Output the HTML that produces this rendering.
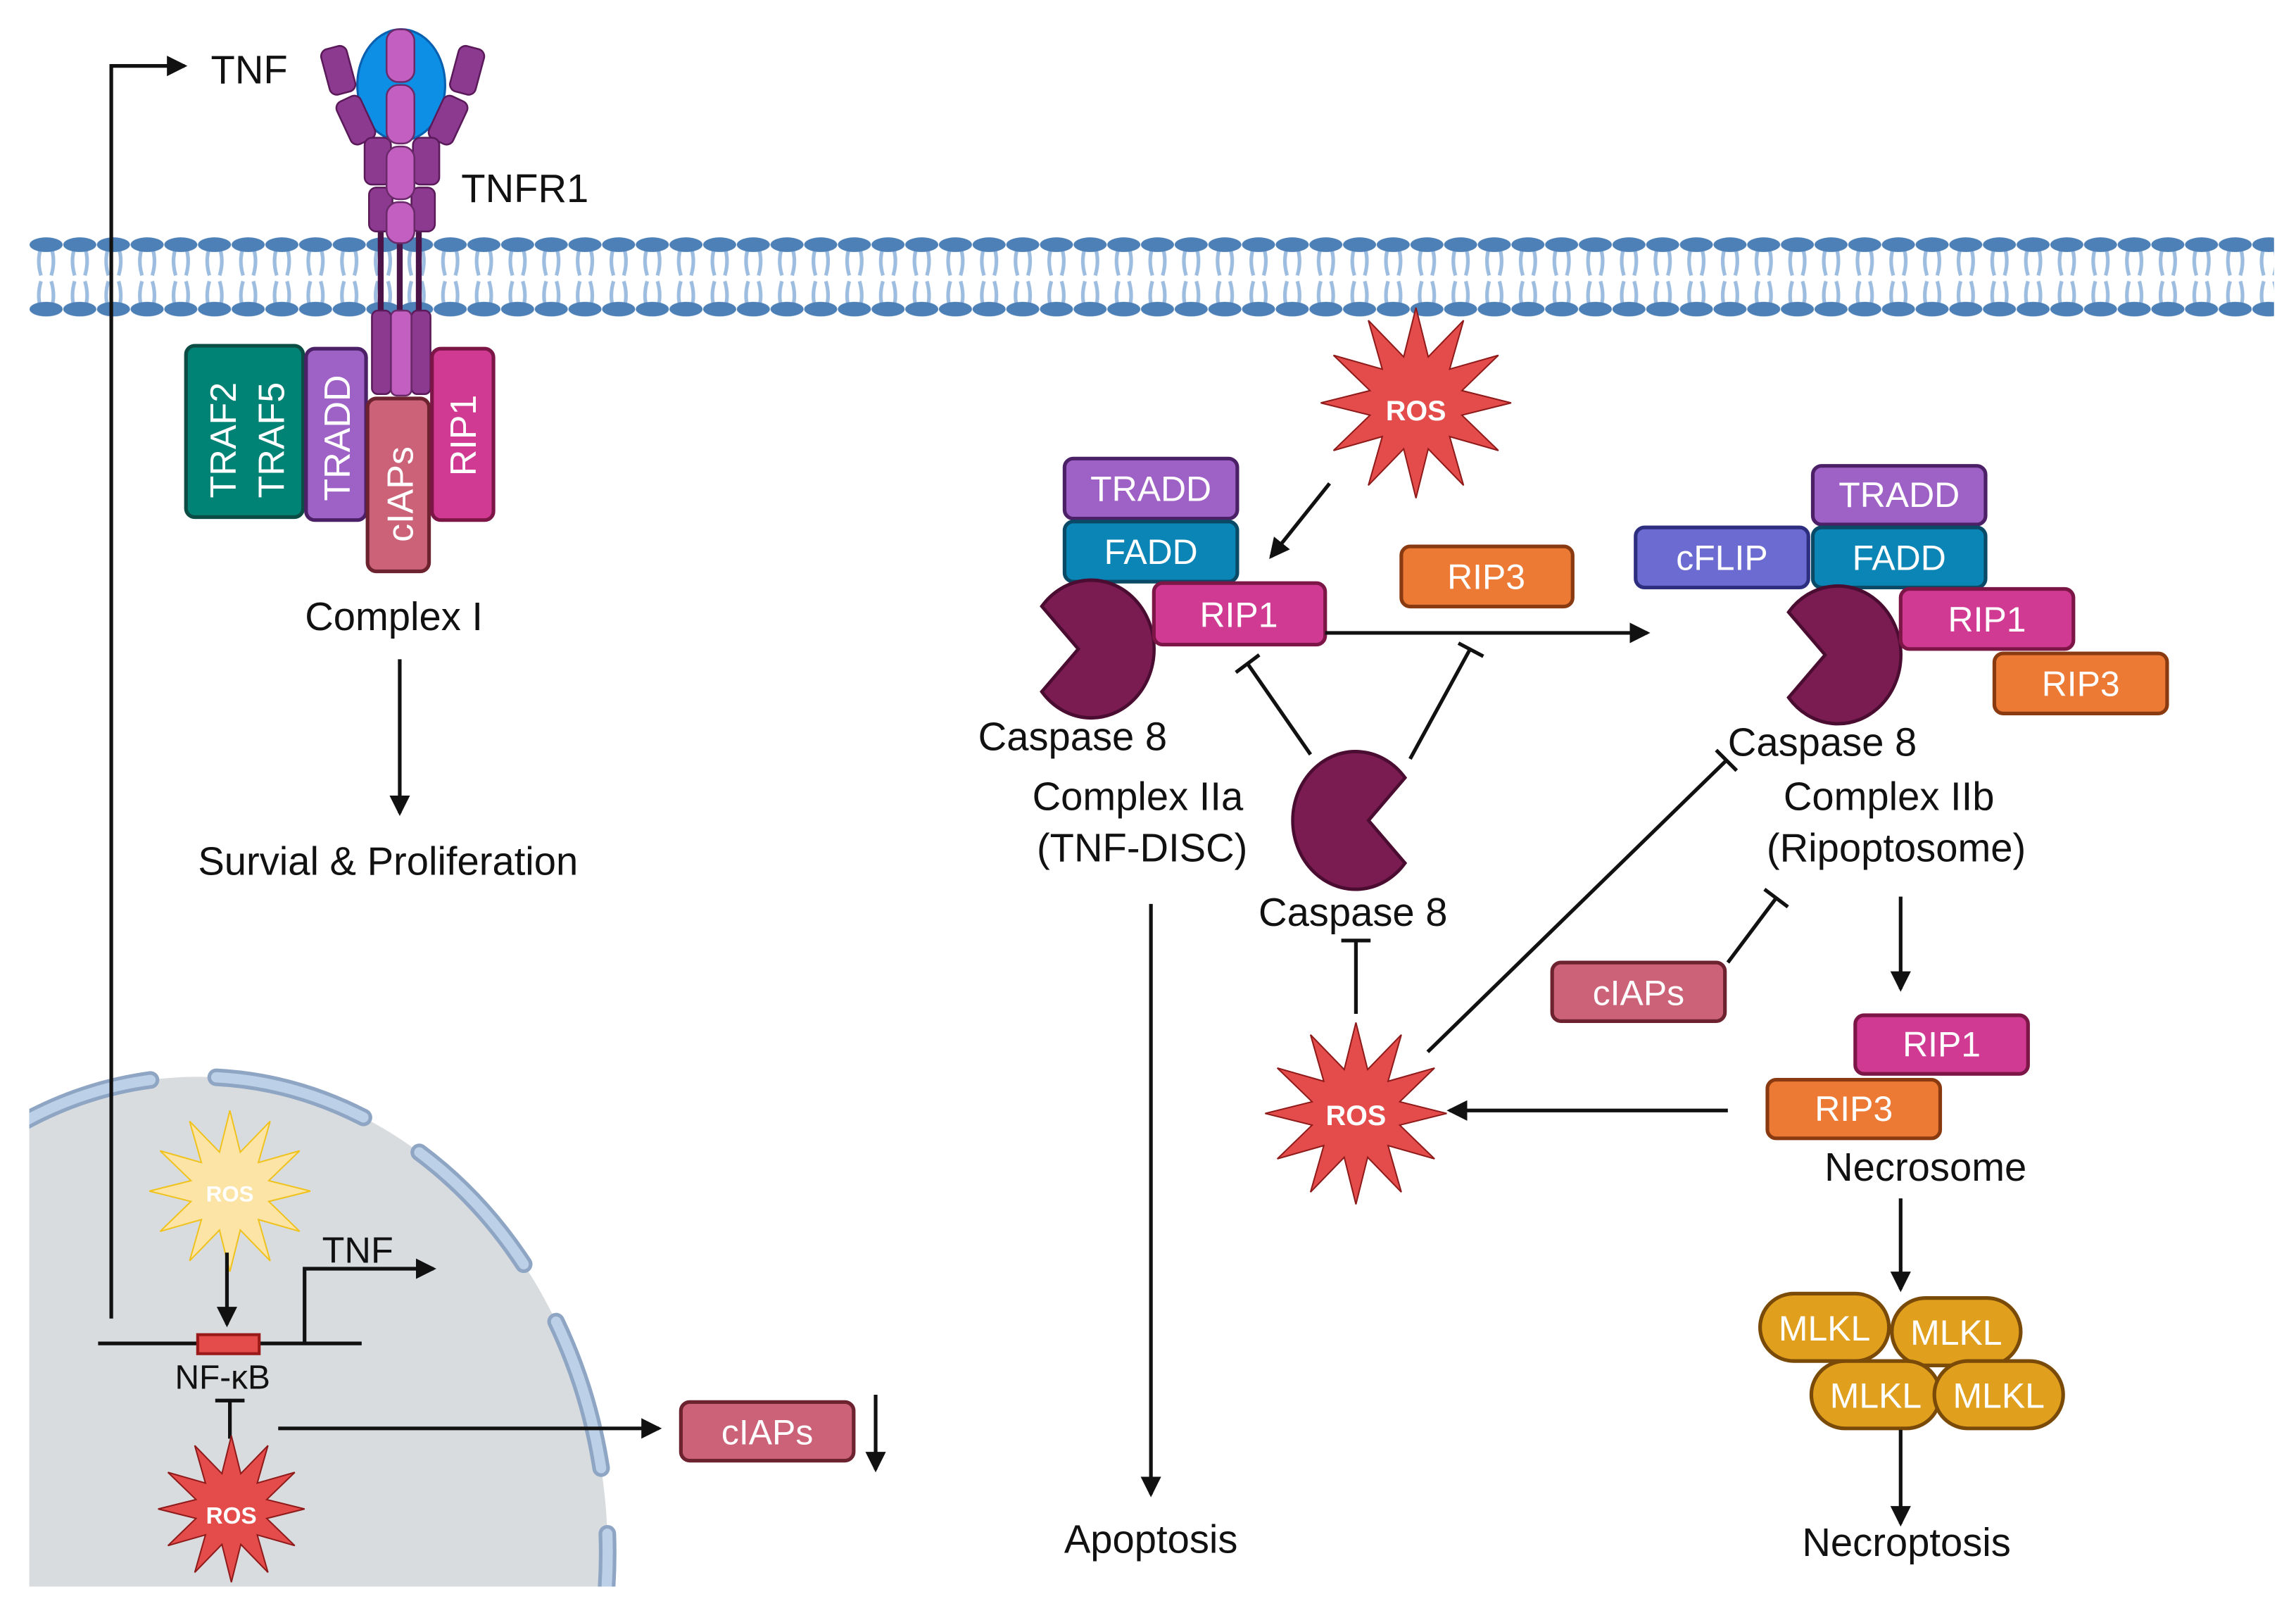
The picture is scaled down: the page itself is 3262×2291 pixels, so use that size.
<!DOCTYPE html>
<html><head><meta charset="utf-8"><style>
html,body{margin:0;padding:0;background:#fff;overflow:hidden;width:3262px;height:2291px;}
svg{display:block;}
text{font-family:"Liberation Sans",sans-serif;}
.lbl{font-size:27px;fill:#111;}
.bx{font-size:24px;fill:#fff;}
</style></head><body>
<svg width="3262" height="2291" viewBox="0 0 1568 1101" preserveAspectRatio="none" xmlns="http://www.w3.org/2000/svg">
<defs>
<marker id="ah" markerWidth="16" markerHeight="16" refX="12" refY="7" orient="auto" markerUnits="userSpaceOnUse"><path d="M0,0 L14,7 L0,14 Z" fill="#111"/></marker>
<symbol id="star" viewBox="-100 -100 200 200" overflow="visible">
<polygon vector-effect="non-scaling-stroke" points="0,-100 12.9,-48.3 50,-86.6 35.4,-35.4 86.6,-50 48.3,-12.9 100,0 48.3,12.9 86.6,50 35.4,35.4 50,86.6 12.9,48.3 0,100 -12.9,48.3 -50,86.6 -35.4,35.4 -86.6,50 -48.3,12.9 -100,0 -48.3,-12.9 -86.6,-50 -35.4,-35.4 -50,-86.6 -12.9,-48.3"/>
</symbol>
<pattern id="mem" x="20" y="160" width="23" height="60" patternUnits="userSpaceOnUse">
<path d="M8,9 Q5,18 8,28 M15,9 Q18,18 15,28 M8,32 Q5,42 8,51 M15,32 Q18,42 15,51" stroke="#9dbde0" stroke-width="2.5" fill="none"/>
<ellipse cx="11.5" cy="7" rx="11.3" ry="5" fill="#4d80b6"/>
<ellipse cx="11.5" cy="51" rx="11.3" ry="5" fill="#4d80b6"/>
</pattern>
<clipPath id="nc"><rect x="20" y="0" width="1548" height="1083"/></clipPath>
</defs>

<rect x="20" y="160" width="1533" height="60" fill="url(#mem)"/>

<g clip-path="url(#nc)">
<ellipse cx="135" cy="1060" rx="280" ry="325" fill="#d9dcdf"/>
<ellipse cx="135" cy="1060" rx="280" ry="325" fill="none" stroke="#8ea6c3" stroke-width="12" stroke-dasharray="105 45" stroke-dashoffset="60" stroke-linecap="round"/>
<ellipse cx="135" cy="1060" rx="280" ry="325" fill="none" stroke="#bcd0e8" stroke-width="7" stroke-dasharray="105 45" stroke-dashoffset="60" stroke-linecap="round"/>
</g>

<polyline points="76,900 76,45 126,45" fill="none" stroke="#111" stroke-width="2.5" marker-end="url(#ah)"/>
<text x="144" y="57" class="lbl">TNF</text>

<g>
<line x1="260" y1="150" x2="260" y2="215" stroke="#4a1448" stroke-width="4"/>
<line x1="273" y1="150" x2="273" y2="215" stroke="#4a1448" stroke-width="4"/>
<line x1="286" y1="150" x2="286" y2="215" stroke="#4a1448" stroke-width="4"/>
<ellipse cx="274" cy="58" rx="30" ry="38" fill="#0c8fe4" stroke="#0a60b0" stroke-width="1.5"/>
<g fill="#8c3a90" stroke="#5a1a5a" stroke-width="1.2">
<rect x="222" y="32" width="18" height="32" rx="5" transform="rotate(-15 231 48)"/>
<rect x="234" y="66" width="18" height="32" rx="5" transform="rotate(-25 243 82)"/>
<rect x="249" y="94" width="18" height="32" rx="5"/>
<rect x="252" y="128" width="16" height="30" rx="5"/>
<rect x="310" y="32" width="18" height="32" rx="5" transform="rotate(15 319 48)"/>
<rect x="297" y="66" width="18" height="32" rx="5" transform="rotate(25 306 82)"/>
<rect x="282" y="94" width="18" height="32" rx="5"/>
<rect x="281" y="128" width="16" height="30" rx="5"/>
<rect x="254" y="212" width="13" height="57" rx="4"/>
<rect x="281" y="212" width="13" height="57" rx="4"/>
</g>
<g fill="#c25fc0" stroke="#6a2a6a" stroke-width="1.2">
<rect x="264" y="20" width="19" height="36" rx="8"/>
<rect x="264" y="58" width="19" height="40" rx="8"/>
<rect x="264" y="100" width="19" height="36" rx="8"/>
<rect x="264" y="138" width="19" height="28" rx="8"/>
<rect x="267" y="212" width="14" height="58" rx="4"/>
</g>
</g>
<text x="315" y="138" class="lbl">TNFR1</text>

<rect x="127" y="236" width="80" height="117" rx="6" fill="#008274" stroke="#0b4d44" stroke-width="2.5"/>
<rect x="209" y="238" width="41" height="117" rx="6" fill="#9e62c6" stroke="#4b2066" stroke-width="2.5"/>
<rect x="251" y="272" width="42" height="118" rx="6" fill="#cc6277" stroke="#6d2230" stroke-width="2.5"/>
<rect x="295" y="238" width="42" height="117" rx="6" fill="#d03a92" stroke="#7b1646" stroke-width="2.5"/>
<text transform="translate(161,340) rotate(-90)" class="bx" style="font-size:25px">TRAF2</text>
<text transform="translate(194,340) rotate(-90)" class="bx" style="font-size:25px">TRAF5</text>
<text transform="translate(239,342) rotate(-90)" class="bx" style="font-size:25px">TRADD</text>
<text transform="translate(282,370) rotate(-90)" class="bx" style="font-size:25px">cIAPs</text>
<text transform="translate(325,325) rotate(-90)" class="bx" style="font-size:25px">RIP1</text>
<text x="269" y="430" class="lbl" text-anchor="middle">Complex I</text>
<line x1="273" y1="450" x2="273" y2="555" stroke="#111" stroke-width="2.5" marker-end="url(#ah)"/>
<text x="265" y="597" class="lbl" text-anchor="middle">Survial &amp; Proliferation</text>

<use href="#star" x="102" y="758" width="110" height="110" fill="#fbe4a6" stroke="#f0c21c" stroke-width="2"/>
<text x="157" y="820" text-anchor="middle" style="font-size:15px;font-weight:bold;fill:#fff">ROS</text>
<line x1="155" y1="855" x2="155" y2="904" stroke="#111" stroke-width="2.5" marker-end="url(#ah)"/>
<line x1="67" y1="917" x2="247" y2="917" stroke="#111" stroke-width="2.5"/>
<rect x="135" y="911" width="42" height="13" fill="#e44b4b" stroke="#9a1a1a" stroke-width="2"/>
<polyline points="208,917 208,866 296,866" fill="none" stroke="#111" stroke-width="2.5" marker-end="url(#ah)"/>
<text x="220" y="862" class="lbl" style="font-size:25px">TNF</text>
<text x="152" y="948" class="lbl" text-anchor="middle" style="font-size:23px">NF-κB</text>
<line x1="157" y1="956" x2="157" y2="982" stroke="#111" stroke-width="2.5"/>
<line x1="147" y1="956" x2="167" y2="956" stroke="#111" stroke-width="2.5"/>
<use href="#star" x="102" y="980" width="112" height="100" fill="#e44b4b" stroke="#8e1a1a" stroke-width="2"/>
<text x="158" y="1040" text-anchor="middle" style="font-size:16px;font-weight:bold;fill:#fff">ROS</text>
<line x1="190" y1="975" x2="450" y2="975" stroke="#111" stroke-width="2.5" marker-end="url(#ah)"/>
<rect x="465" y="957" width="118" height="40" rx="6" fill="#cc6277" stroke="#6d2230" stroke-width="2.5"/>
<text x="524" y="986" class="bx" text-anchor="middle">cIAPs</text>
<line x1="598" y1="952" x2="598" y2="1003" stroke="#111" stroke-width="2.5" marker-end="url(#ah)"/>

<use href="#star" x="897" y="210" width="140" height="130" fill="#e44b4b" stroke="#8e1a1a" stroke-width="2"/>
<text x="967" y="287" text-anchor="middle" style="font-size:19px;font-weight:bold;fill:#fff">ROS</text>
<line x1="908" y1="330" x2="868" y2="380" stroke="#111" stroke-width="2.5" marker-end="url(#ah)"/>

<rect x="727" y="313" width="118" height="41" rx="6" fill="#9e62c6" stroke="#4b2066" stroke-width="2.5"/>
<text x="786" y="342" class="bx" text-anchor="middle">TRADD</text>
<rect x="727" y="356" width="118" height="41" rx="6" fill="#0b85b5" stroke="#0a4a66" stroke-width="2.5"/>
<text x="786" y="385" class="bx" text-anchor="middle">FADD</text>
<path d="M-0.2,0 L-0.78,-0.62 A1,1 0 1,1 -0.78,0.62 Z" transform="translate(745,443) scale(43,47)" fill="#7a1c52" stroke="#4a0c30" stroke-width="0.05"/>
<rect x="788" y="398" width="117" height="42" rx="6" fill="#d03a92" stroke="#7b1646" stroke-width="2.5"/>
<text x="846" y="428" class="bx" text-anchor="middle">RIP1</text>
<text x="668" y="512" class="lbl">Caspase 8</text>
<text x="777" y="553" class="lbl" text-anchor="middle">Complex IIa</text>
<text x="780" y="588" class="lbl" text-anchor="middle">(TNF-DISC)</text>

<rect x="957" y="373" width="117" height="41" rx="6" fill="#ec7a35" stroke="#8a3a10" stroke-width="2.5"/>
<text x="1015" y="402" class="bx" text-anchor="middle">RIP3</text>
<line x1="905" y1="432" x2="1125" y2="432" stroke="#111" stroke-width="2.5" marker-end="url(#ah)"/>

<path d="M0.2,0 L0.78,-0.62 A1,1 0 1,0 0.78,0.62 Z" transform="translate(926,560) scale(43,47)" fill="#7a1c52" stroke="#4a0c30" stroke-width="0.05"/>
<g stroke="#111" stroke-width="2.5">
<line x1="895" y1="515" x2="852" y2="453"/><line x1="844" y1="459" x2="860" y2="447"/>
<line x1="963" y1="518" x2="1004" y2="443"/><line x1="996" y1="439" x2="1013" y2="448"/>
<line x1="926" y1="692" x2="926" y2="642"/><line x1="916" y1="642" x2="936" y2="642"/>
<line x1="975" y1="718" x2="1179" y2="519"/><line x1="1172" y1="512" x2="1186" y2="526"/>
<line x1="1180" y1="657" x2="1213" y2="613"/><line x1="1205" y1="607" x2="1221" y2="619"/>
</g>
<text x="924" y="632" class="lbl" text-anchor="middle">Caspase 8</text>
<use href="#star" x="858" y="698" width="136" height="124" fill="#e44b4b" stroke="#8e1a1a" stroke-width="2"/>
<text x="926" y="768" text-anchor="middle" style="font-size:19px;font-weight:bold;fill:#fff">ROS</text>
<rect x="1060" y="657" width="118" height="40" rx="6" fill="#cc6277" stroke="#6d2230" stroke-width="2.5"/>
<text x="1119" y="686" class="bx" text-anchor="middle">cIAPs</text>
<line x1="1180" y1="758" x2="990" y2="758" stroke="#111" stroke-width="2.5" marker-end="url(#ah)"/>
<line x1="786" y1="617" x2="786" y2="1020" stroke="#111" stroke-width="2.5" marker-end="url(#ah)"/>
<text x="786" y="1060" class="lbl" text-anchor="middle">Apoptosis</text>

<rect x="1238" y="318" width="118" height="40" rx="6" fill="#9e62c6" stroke="#4b2066" stroke-width="2.5"/>
<text x="1297" y="346" class="bx" text-anchor="middle">TRADD</text>
<rect x="1117" y="360" width="118" height="41" rx="6" fill="#6b6bd2" stroke="#2e2e80" stroke-width="2.5"/>
<text x="1176" y="389" class="bx" text-anchor="middle">cFLIP</text>
<rect x="1238" y="360" width="118" height="41" rx="6" fill="#0b85b5" stroke="#0a4a66" stroke-width="2.5"/>
<text x="1297" y="389" class="bx" text-anchor="middle">FADD</text>
<path d="M-0.2,0 L-0.78,-0.62 A1,1 0 1,1 -0.78,0.62 Z" transform="translate(1255,447) scale(43,47)" fill="#7a1c52" stroke="#4a0c30" stroke-width="0.05"/>
<rect x="1298" y="402" width="118" height="41" rx="6" fill="#d03a92" stroke="#7b1646" stroke-width="2.5"/>
<text x="1357" y="431" class="bx" text-anchor="middle">RIP1</text>
<rect x="1362" y="446" width="118" height="41" rx="6" fill="#ec7a35" stroke="#8a3a10" stroke-width="2.5"/>
<text x="1421" y="475" class="bx" text-anchor="middle">RIP3</text>
<text x="1180" y="516" class="lbl">Caspase 8</text>
<text x="1290" y="553" class="lbl" text-anchor="middle">Complex IIb</text>
<text x="1295" y="588" class="lbl" text-anchor="middle">(Ripoptosome)</text>
<line x1="1298" y1="612" x2="1298" y2="675" stroke="#111" stroke-width="2.5" marker-end="url(#ah)"/>

<rect x="1267" y="693" width="118" height="40" rx="6" fill="#d03a92" stroke="#7b1646" stroke-width="2.5"/>
<text x="1326" y="721" class="bx" text-anchor="middle">RIP1</text>
<rect x="1207" y="737" width="118" height="40" rx="6" fill="#ec7a35" stroke="#8a3a10" stroke-width="2.5"/>
<text x="1266" y="765" class="bx" text-anchor="middle">RIP3</text>
<text x="1315" y="806" class="lbl" text-anchor="middle">Necrosome</text>
<line x1="1298" y1="818" x2="1298" y2="880" stroke="#111" stroke-width="2.5" marker-end="url(#ah)"/>

<g fill="#e0a01e" stroke="#7a4a08" stroke-width="2.5">
<rect x="1202" y="883" width="88" height="46" rx="23"/>
<rect x="1292" y="886" width="88" height="46" rx="23"/>
<rect x="1237" y="929" width="88" height="46" rx="23"/>
<rect x="1321" y="929" width="88" height="46" rx="23"/>
</g>
<text x="1246" y="915" class="bx" text-anchor="middle">MLKL</text>
<text x="1336" y="918" class="bx" text-anchor="middle">MLKL</text>
<text x="1281" y="961" class="bx" text-anchor="middle">MLKL</text>
<text x="1365" y="961" class="bx" text-anchor="middle">MLKL</text>
<line x1="1298" y1="976" x2="1298" y2="1040" stroke="#111" stroke-width="2.5" marker-end="url(#ah)"/>
<text x="1302" y="1062" class="lbl" text-anchor="middle">Necroptosis</text>
</svg>
</body></html>
